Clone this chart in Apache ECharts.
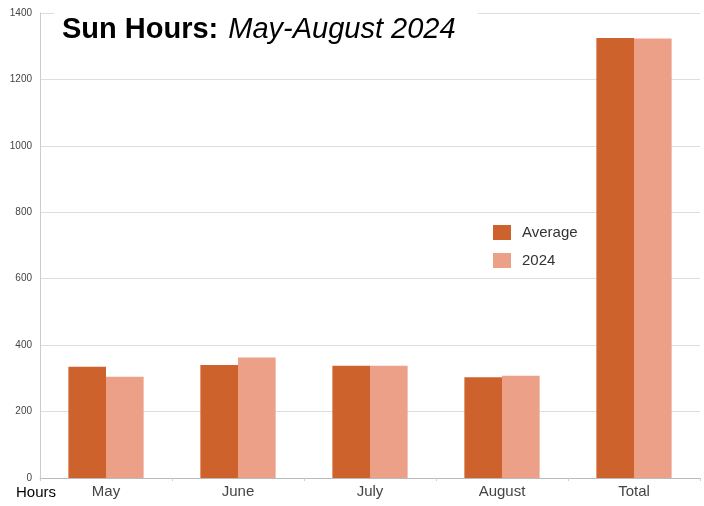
<!DOCTYPE html>
<html>
<head>
<meta charset="utf-8">
<script src="https://cdn.jsdelivr.net/npm/echarts@6/dist/echarts.min.js"></script>
<style>html,body{margin:0;padding:0;background:#fff;}#c{width:704px;height:506px;}</style>
</head>
<body>
<div id="c"></div>
<script>
const categories = ['May', 'June', 'July', 'August', 'Total'];
const averageHours = [335, 340, 338, 303, 1325];
const hours2024 = [305, 363, 338, 308, 1323];
const yTicks = [0, 200, 400, 600, 800, 1000, 1200, 1400];

const chart = echarts.init(document.getElementById('c'));
chart.setOption({
  animation: false,
  backgroundColor: '#fff',
  textStyle: { fontFamily: 'Liberation Sans, Arial, sans-serif' },
  title: {
    text: '{b|Sun Hours:}{i|May-August 2024}',
    left: 54, top: 9,
    padding: [6, 22, 8, 8],
    backgroundColor: '#fff',
    z: 10,
    textStyle: {
      fontWeight: 'normal',
      rich: {
        b: { fontSize: 29, fontWeight: 'bold', color: '#000', fontFamily: 'Liberation Sans' },
        i: { fontSize: 29, fontWeight: 'normal', fontStyle: 'italic', color: '#000', fontFamily: 'Liberation Sans', padding: [0, 0, 0, 10] }
      }
    }
  },
  legend: {
    orient: 'vertical',
    left: 488, top: 220,
    itemWidth: 18, itemHeight: 15, itemGap: 13,
    icon: 'rect',
    textStyle: { fontSize: 15, color: '#333', padding: [0, 0, 0, 6] },
    data: ['Average', '2024']
  },
  grid: { left: 40, right: 4, top: 13, bottom: 28, containLabel: false },
  xAxis: {
    type: 'category',
    data: categories,
    axisLine: { lineStyle: { color: '#bbb' } },
    axisTick: { show: true, length: 3, lineStyle: { color: '#ccc' } },
    axisLabel: { fontSize: 15, color: '#444', margin: 6 }
  },
  yAxis: {
    type: 'value',
    min: yTicks[0], max: yTicks[yTicks.length - 1], interval: 200,
    axisLine: { show: true, lineStyle: { color: '#ccc' } },
    axisTick: { show: false },
    splitLine: { lineStyle: { color: '#ddd' } },
    axisLabel: { fontSize: 10, color: '#444', margin: 8, formatter: v => String(v) }
  },
  graphic: [{
    type: 'text', left: 16, top: 485,
    style: { text: 'Hours', fontSize: 15, fill: '#000', fontFamily: 'Liberation Sans' }
  }],
  series: [
    { name: 'Average', type: 'bar', data: averageHours, barGap: '0%', barCategoryGap: '43%', itemStyle: { color: '#CD622D' } },
    { name: '2024', type: 'bar', data: hours2024, itemStyle: { color: '#ECA088' } }
  ]
});
</script>
</body>
</html>
